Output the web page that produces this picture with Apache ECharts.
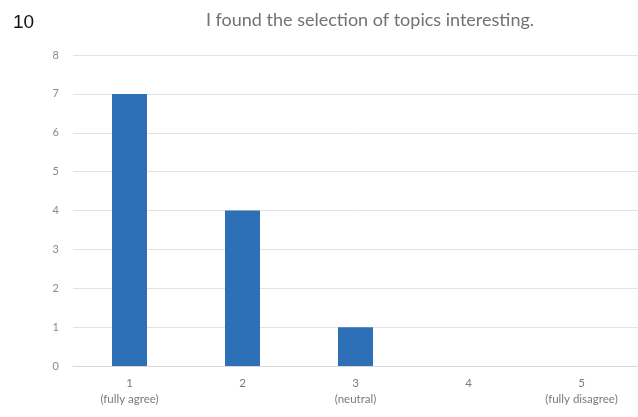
<!DOCTYPE html>
<html>
<head>
<meta charset="utf-8">
<script src="https://cdn.jsdelivr.net/npm/echarts@6/dist/echarts.min.js"></script>
<style>
  html, body { margin: 0; padding: 0; background: #fff; }
  #chart { width: 638px; height: 417px; }
</style>
</head>
<body>
<div id="chart"></div>
<script>
// Survey answers for one statement: number of responses per rating
const categories = ['1\n(fully agree)', '2', '3\n(neutral)', '4', '5\n(fully disagree)'];
const counts = [7, 4, 1, 0, 0];
const yTicks = [0, 1, 2, 3, 4, 5, 6, 7, 8];

const chart = echarts.init(document.getElementById('chart'), null, { renderer: 'canvas' });

chart.setOption({
  animation: false,
  backgroundColor: '#ffffff',
  title: [
    {
      text: '10',
      left: 8,
      top: 8,
      textStyle: { fontFamily: 'Liberation Sans', fontSize: 19, fontWeight: 'normal', color: '#111' }
    },
    {
      text: 'I found the selection of topics interesting.',
      left: 365,
      top: 6,
      textAlign: 'center',
      textStyle: { fontFamily: 'Lato', fontSize: 18, fontWeight: 'normal', color: '#727272' }
    }
  ],
  grid: { left: 73, right: -2, top: 55, bottom: 51 },
  xAxis: {
    type: 'category',
    data: categories,
    axisLine: { show: true, lineStyle: { color: '#d9d9d9', width: 1 } },
    axisTick: { show: false },
    axisLabel: {
      color: '#7a7a7a',
      fontFamily: 'Lato',
      fontSize: 11.5,
      lineHeight: 16,
      margin: 9
    }
  },
  yAxis: {
    type: 'value',
    min: yTicks[0],
    max: yTicks[yTicks.length - 1],
    interval: 1,
    axisLine: { show: false },
    axisTick: { show: false },
    splitLine: { lineStyle: { color: '#e3e3e3', width: 1 } },
    axisLabel: {
      color: '#8a8a8a',
      fontFamily: 'Lato',
      fontSize: 11,
      margin: 14
    }
  },
  series: [
    {
      type: 'bar',
      data: counts,
      barWidth: 35,
      itemStyle: { color: '#2e70b8' }
    }
  ]
});
</script>
</body>
</html>
